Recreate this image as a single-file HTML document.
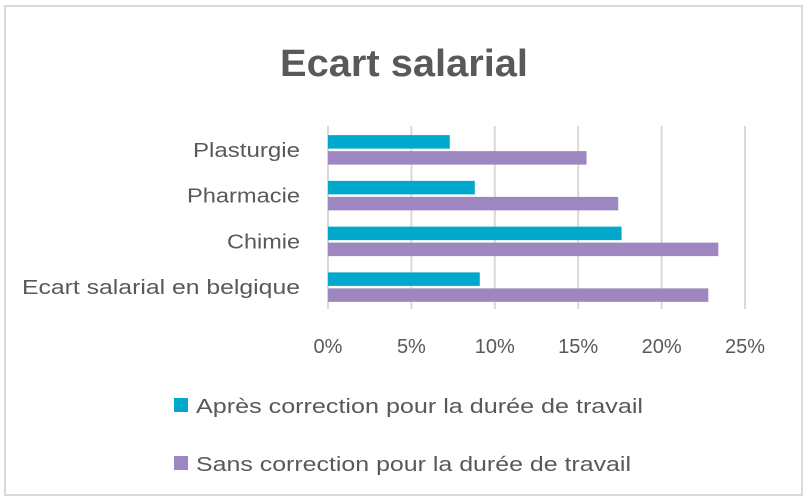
<!DOCTYPE html>
<html><head><meta charset="utf-8"><style>
html,body{margin:0;padding:0;background:#fff;}
svg{display:block;font-family:"Liberation Sans",sans-serif;}
</style></head><body>
<svg width="807" height="503" viewBox="0 0 807 503">
<rect x="5" y="6" width="797" height="489" fill="#fff" stroke="#d9d9d9" stroke-width="2"/>
<text x="404" y="76" text-anchor="middle" font-size="38" font-weight="bold" fill="#595959" textLength="248" lengthAdjust="spacingAndGlyphs">Ecart salarial</text>
<g id="grid"></g>
<g id="bars"></g>
<g id="cats"></g>
<g id="ticks"></g>
<g>
<rect x="174" y="398" width="14" height="14" fill="#00a8cc"/>
<text x="196" y="413" font-size="20" fill="#595959" textLength="447" lengthAdjust="spacingAndGlyphs">Après correction pour la durée de travail</text>
<rect x="174" y="456" width="14" height="14" fill="#9e87c1"/>
<text x="196" y="471" font-size="20" fill="#595959" textLength="435" lengthAdjust="spacingAndGlyphs">Sans correction pour la durée de travail</text>
</g>
</svg>
<script>
const categories = ["Plasturgie", "Pharmacie", "Chimie", "Ecart salarial en belgique"];
const apres = [7.3, 8.8, 17.6, 9.1];
const sans = [15.5, 17.4, 23.4, 22.8];
const tickValues = [0, 5, 10, 15, 20, 25];
const tickLabels = ["0%", "5%", "10%", "15%", "20%", "25%"];
const labelWidths = [107, 113, 73, 278];

const NS = "http://www.w3.org/2000/svg";
const x0 = 328, x1 = 745, vmax = 25;
const yTop = 126, yBot = 309;
const band = (yBot - yTop) / categories.length;
function xs(v){ return x0 + (v / vmax) * (x1 - x0); }
function mk(tag, attrs, parent){
  const e = document.createElementNS(NS, tag);
  for (const k in attrs) e.setAttribute(k, attrs[k]);
  parent.appendChild(e); return e;
}
const grid = document.getElementById("grid");
const ticks = document.getElementById("ticks");
tickValues.forEach((t, i) => {
  const l = mk("line", {x1: xs(t), x2: xs(t), y1: yTop, y2: yBot, stroke: "#d9d9d9", "stroke-width": 2}, grid);
  
  
  const tx = mk("text", {x: xs(t), y: 353, "text-anchor": "middle", "font-size": 20, fill: "#595959"}, ticks);
  tx.textContent = tickLabels[i];
  
  
});
const bars = document.getElementById("bars");
const cats = document.getElementById("cats");
const bh = 13.5, gap = 2.5;
categories.forEach((c, i) => {
  const cy = yTop + band * i + band / 2 + 1;
  const r1 = mk("rect", {x: x0, y: cy - gap/2 - bh, width: xs(apres[i]) - x0, height: bh, fill: "#00a8cc"}, bars);
  
  
  const r2 = mk("rect", {x: x0, y: cy + gap/2, width: xs(sans[i]) - x0, height: bh, fill: "#9e87c1"}, bars);
  
  
  const t = mk("text", {x: 300, y: cy + 7, "text-anchor": "end", "font-size": 20, fill: "#595959", textLength: labelWidths[i], lengthAdjust: "spacingAndGlyphs"}, cats);
  t.textContent = c;
  
  
});
</script>
</body></html>
